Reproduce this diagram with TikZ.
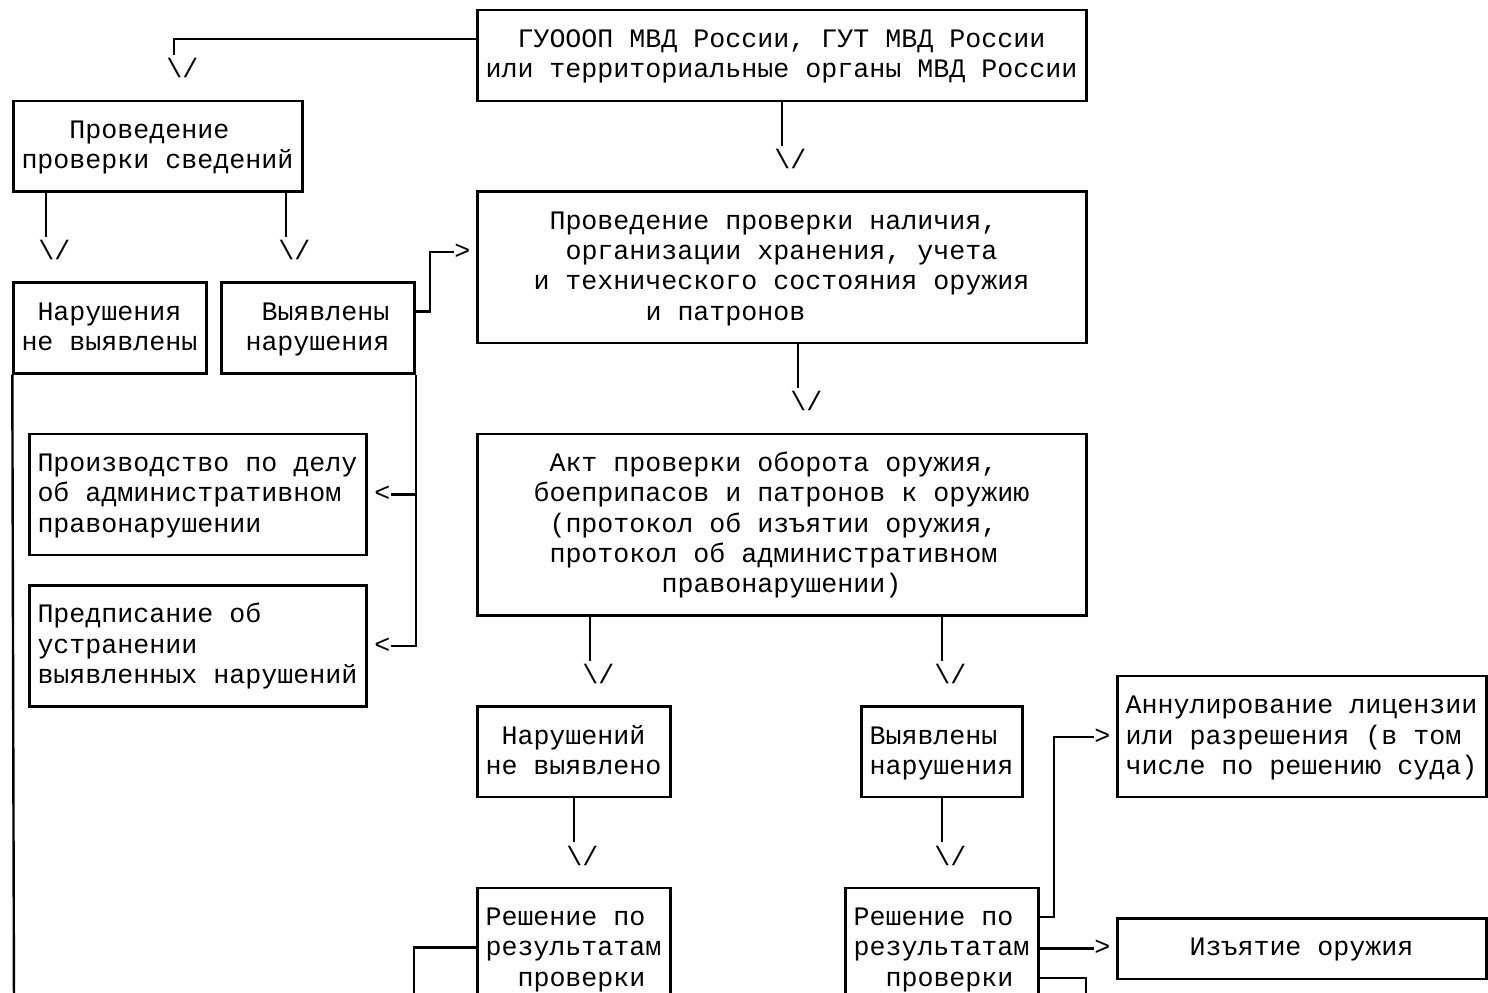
\documentclass[tikz,border=0pt]{standalone}
\usepackage{fontspec}
\newfontfamily\mono{Liberation Mono}
\setlength\parindent{0pt}
\frenchspacing
\newcommand\rs{\rule[-3.92pt]{0pt}{15.14pt}}
\newcommand\ldsp[1]{\hspace*{\dimexpr 8pt*#1\relax}}
\newcommand\monofnt{\mono\fontsize{13.331pt}{15.14pt}\selectfont}
\tikzset{
  bx/.style={draw, rectangle, line width=1.2pt, inner xsep=4pt, inner ysep=0pt, align=left,
    font=\monofnt},
  gl/.style={inner sep=0pt, anchor=west, font=\monofnt},
  conn/.style={line width=1.2pt}
}
\newcommand\bx[6]{\node[bx,
  minimum width=\the\dimexpr 8pt*(#4-#2)\relax,
  minimum height=\the\dimexpr 15.14pt*(#5-#3)\relax,
  text width=\the\dimexpr 8pt*(#4-#2-1)+0.5pt\relax] (#1) at ({(#2+#4)/2},{(#3+#5)/2})
  {\spaceskip=8pt\relax\xspaceskip=8pt\relax #6};}
\begin{document}
\begin{tikzpicture}[x=8pt, y={(0pt,-15.14pt)}]
\useasboundingbox (-0.875,-0.3303) rectangle (92.125,32.431);
\clip (-0.875,-0.3303) rectangle (92.125,32.431);

% boxes
\bx{top}{29}{0}{67}{3}{\rs\ldsp{2}ГУОООП МВД России, ГУТ МВД России\\\rs или территориальные органы МВД России}
\bx{pps}{0}{3}{18}{6}{\rs\ldsp{3}Проведение\\\rs проверки сведений}
\bx{nnv}{0}{9}{12}{12}{\rs\ldsp{1}Нарушения\\\rs не выявлены}
\bx{vn1}{13}{9}{25}{12}{\rs\ldsp{2}Выявлены\\\rs\ldsp{1}нарушения}
\bx{ppn}{29}{6}{67}{11}{\rs\ldsp{4}Проведение проверки наличия,\\\rs\ldsp{5}организации хранения, учета\\\rs\ldsp{3}и технического состояния оружия\\\rs\ldsp{10}и патронов}
\bx{akt}{29}{14}{67}{20}{\rs\ldsp{4}Акт проверки оборота оружия,\\\rs\ldsp{3}боеприпасов и патронов к оружию\\\rs\ldsp{4}(протокол об изъятии оружия,\\\rs\ldsp{4}протокол об административном\\\rs\ldsp{11}правонарушении)}
\bx{proizv}{1}{14}{22}{18}{\rs Производство по делу\\\rs об административном\\\rs правонарушении}
\bx{predp}{1}{19}{22}{23}{\rs Предписание об\\\rs устранении\\\rs выявленных нарушений}
\bx{nnv2}{29}{23}{41}{26}{\rs\ldsp{1}Нарушений\\\rs не выявлено}
\bx{vn2}{53}{23}{63}{26}{\rs Выявлены\\\rs нарушения}
\bx{res1}{29}{29}{41}{34}{\rs Решение по\\\rs результатам\\\rs\ldsp{2}проверки\\\rs}
\bx{res2}{52}{29}{64}{34}{\rs Решение по\\\rs результатам\\\rs\ldsp{2}проверки\\\rs}
\bx{annul}{69}{22}{92}{26}{\rs Аннулирование лицензии\\\rs или разрешения (в том\\\rs числе по решению суда)}
\bx{izy}{69}{30}{92}{32}{\rs\ldsp{4}Изъятие оружия}

% arrow glyphs
\node[gl] (v1) at (9.5,2) {\rs\textbackslash/};
\node[gl] (v2) at (47.5,5) {\rs\textbackslash/};
\node[gl] (v3) at (1.5,8) {\rs\textbackslash/};
\node[gl] (v4) at (16.5,8) {\rs\textbackslash/};
\node[gl] (v5) at (48.5,13) {\rs\textbackslash/};
\node[gl] (v6) at (35.5,22) {\rs\textbackslash/};
\node[gl] (v7) at (57.5,22) {\rs\textbackslash/};
\node[gl] (v8) at (34.5,28) {\rs\textbackslash/};
\node[gl] (v9) at (57.5,28) {\rs\textbackslash/};
\node[gl] (g1) at (27.5,8) {\rs>};
\node[gl] (g2) at (67.5,24) {\rs>};
\node[gl] (g3) at (67.5,31) {\rs>};
\node[gl] (l1) at (22.5,16) {\rs<};
\node[gl] (l2) at (22.5,21) {\rs<};

\foreach \i in {1,...,9} {\coordinate (c\i) at ([xshift=4pt]v\i.north west);}
\coordinate (e1) at (0,33);
\coordinate (e2) at (25,33);
\coordinate (e3) at (67,33);

% connectors
\draw[conn] ([yshift=-15.14pt]top.north west) -| (c1);
\draw[conn] (c2 |- top.south) -- (c2);
\draw[conn] (c3 |- pps.south) -- (c3);
\draw[conn] (c4 |- pps.south) -- (c4);
\draw[conn] ([yshift=-15.14pt]vn1.north east) -| ([xshift=-12pt]g1.west) -- (g1.west);
\draw[conn] (vn1.south east) |- (l2.east);
\draw[conn] (l1.east) -- (l1.east -| vn1.east);
\draw[conn] (nnv.south west) -- (e1);
\draw[conn] ([yshift=-30.28pt]res1.north west) -| (e2);
\draw[conn] (c5 |- ppn.south) -- (c5);
\draw[conn] (c6 |- akt.south) -- (c6);
\draw[conn] (c7 |- akt.south) -- (c7);
\draw[conn] (c8 |- nnv2.south) -- (c8);
\draw[conn] (c9 |- vn2.south) -- (c9);
\draw[conn] ([yshift=-15.14pt]res2.north east) -| ([xshift=-20pt]g2.west) -- (g2.west);
\draw[conn] (g3.west -| res2.east) -- (g3.west);
\draw[conn] ([yshift=-45.42pt]res2.north east) -| (e3);
\end{tikzpicture}
\end{document}
